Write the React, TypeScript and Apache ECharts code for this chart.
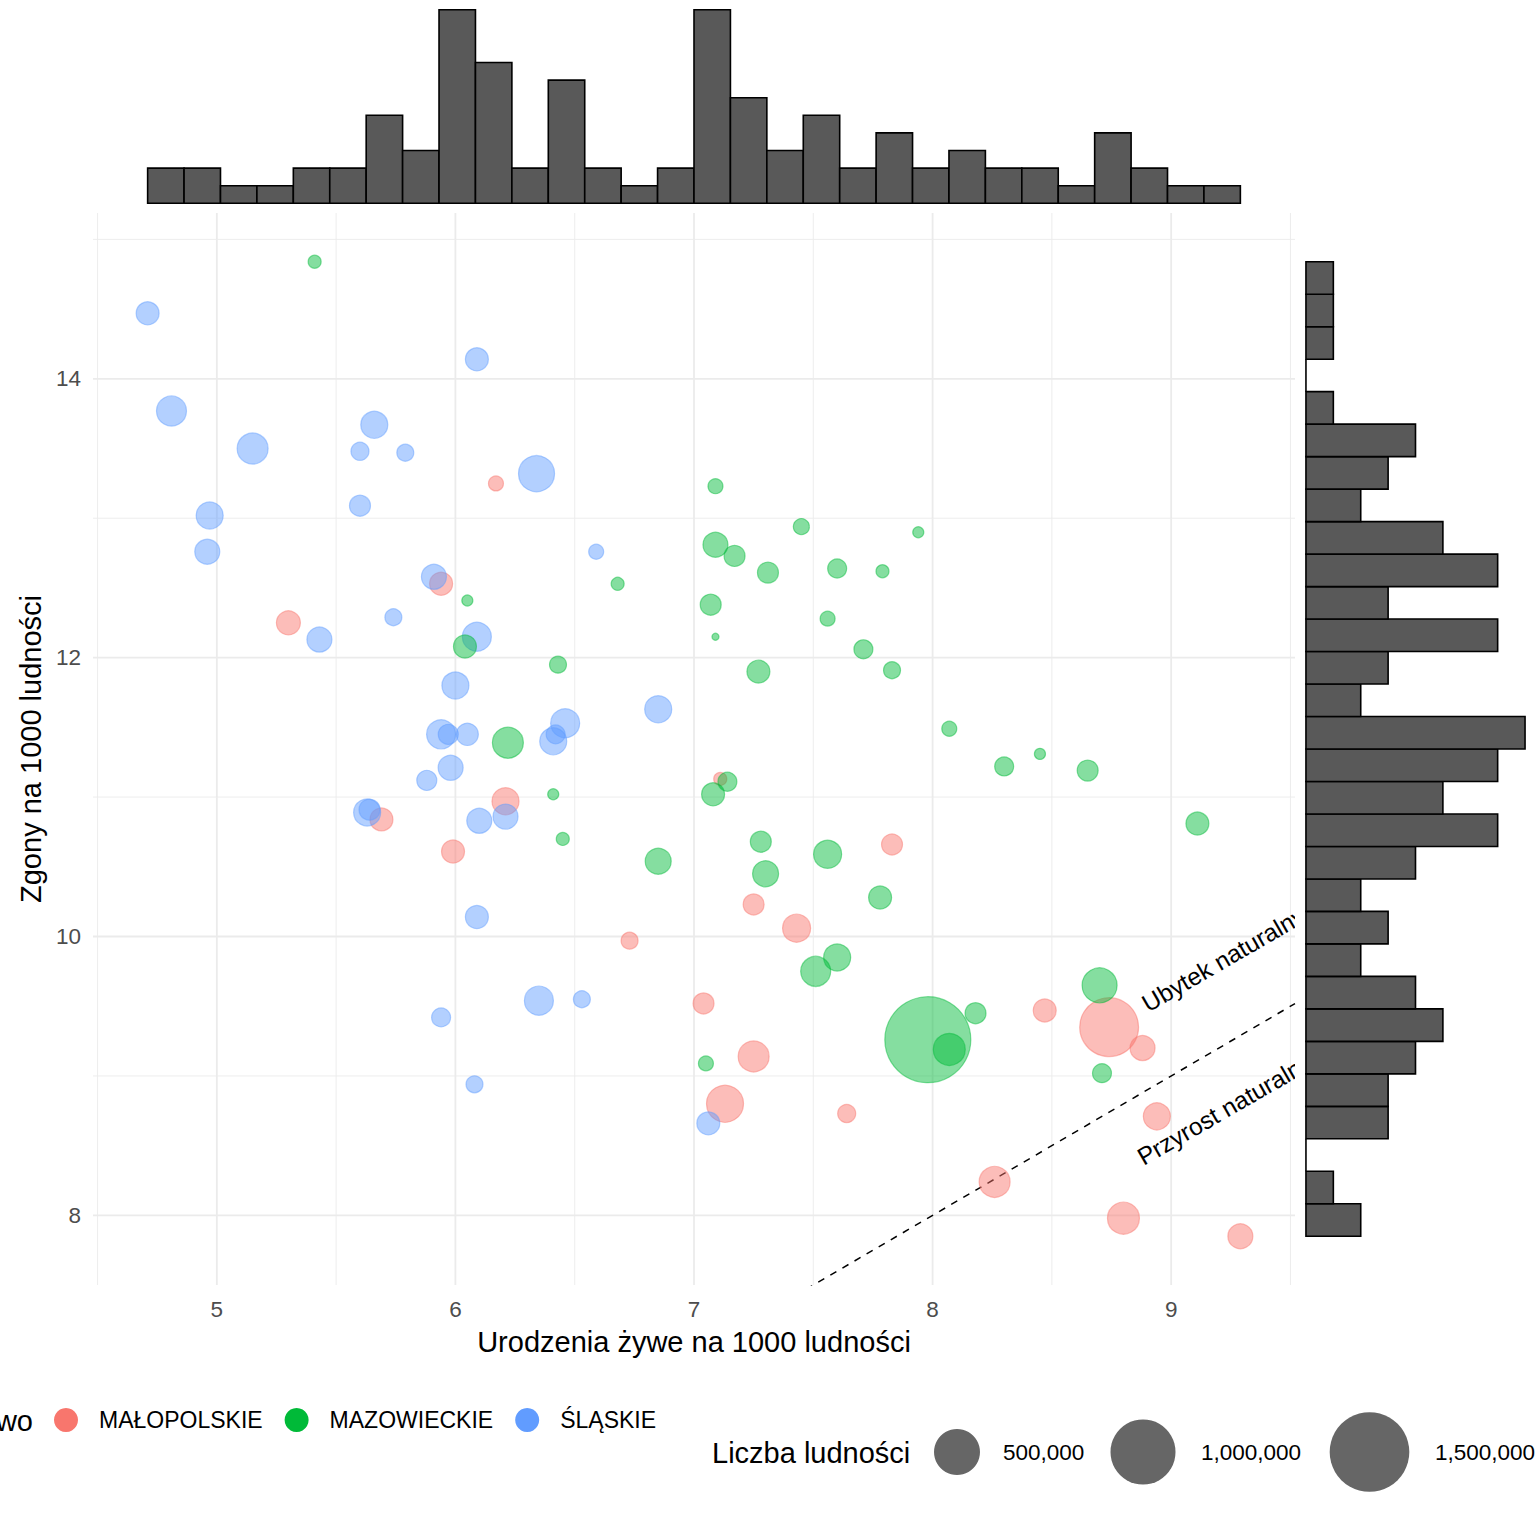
import { useEffect, useRef } from 'react';
import * as echarts from 'echarts';

const FONT = "'Liberation Sans', Arial, sans-serif";

// Województwa (kolejność legendy) i kolory ggplot.
const VOIVODESHIPS = ['MAŁOPOLSKIE', 'MAZOWIECKIE', 'ŚLĄSKIE'];
const SOLID = ['#F8766D', '#00BA38', '#619CFF'];
const FILL = ['rgba(248,118,109,0.6)', 'rgba(0,186,56,0.6)', 'rgba(97,156,255,0.6)'];

// Powiaty: urodzenia żywe / zgony na 1000 ludności oraz liczba ludności.
const MAL_BIRTHS = [6.17, 5.94, 5.30, 5.69, 6.21, 5.99, 6.73, 7.11, 7.83, 7.25, 7.43, 7.04, 7.25, 7.13, 7.64, 8.47, 8.74, 8.88, 8.94, 8.26, 8.80, 9.29];
const MAL_DEATHS = [13.25, 12.53, 12.25, 10.84, 10.97, 10.61, 9.97, 11.13, 10.66, 10.23, 10.06, 9.52, 9.14, 8.80, 8.73, 9.47, 9.35, 9.20, 8.71, 8.24, 7.98, 7.85];
const MAL_POP = [53000, 125000, 136000, 125000, 173000, 125000, 68000, 40000, 104000, 104000, 186000, 104000, 227000, 324000, 77000, 125000, 820000, 148000, 173000, 227000, 242000, 148000];

const MAZ_BIRTHS = [5.41, 6.05, 6.68, 6.04, 6.43, 6.22, 6.41, 6.45, 6.85, 7.09, 7.45, 7.94, 7.09, 7.17, 7.31, 7.60, 7.79, 7.07, 7.09, 7.56, 7.71, 7.27, 7.83, 8.07, 7.14, 7.08, 7.28, 7.30, 7.56, 7.78, 7.60, 7.51, 7.98, 8.07, 8.18, 7.05, 8.30, 8.45, 8.65, 9.11, 8.70, 8.71];
const MAZ_DEATHS = [14.84, 12.41, 12.53, 12.08, 11.95, 11.39, 11.02, 10.70, 10.54, 13.23, 12.94, 12.90, 12.81, 12.73, 12.61, 12.64, 12.62, 12.38, 12.15, 12.28, 12.06, 11.90, 11.91, 11.49, 11.11, 11.02, 10.68, 10.45, 10.59, 10.28, 9.85, 9.75, 9.26, 9.19, 9.45, 9.09, 11.22, 11.31, 11.19, 10.81, 9.65, 9.02];
const MAZ_POP = [40000, 29000, 40000, 125000, 68000, 227000, 29000, 40000, 160000, 53000, 61000, 29000, 148000, 104000, 104000, 85000, 40000, 104000, 12000, 53000, 85000, 125000, 68000, 53000, 85000, 125000, 104000, 160000, 186000, 125000, 173000, 213000, 1750000, 242000, 104000, 53000, 85000, 29000, 104000, 125000, 290000, 85000];

const SL_BIRTHS = [4.71, 6.09, 4.81, 5.15, 5.66, 5.60, 5.79, 5.60, 4.97, 4.96, 5.91, 6.34, 6.59, 5.74, 5.43, 6.09, 6.00, 6.85, 5.94, 5.97, 6.05, 6.46, 6.41, 6.42, 5.98, 5.88, 5.63, 5.64, 6.21, 6.10, 6.09, 6.35, 6.53, 5.94, 6.08, 7.06];
const SL_DEATHS = [14.47, 14.14, 13.77, 13.50, 13.67, 13.48, 13.47, 13.09, 13.02, 12.76, 12.58, 13.32, 12.76, 12.29, 12.13, 12.15, 11.80, 11.63, 11.45, 11.45, 11.45, 11.53, 11.40, 11.45, 11.21, 11.12, 10.89, 10.91, 10.86, 10.83, 10.14, 9.54, 9.55, 9.42, 8.94, 8.66];
const SL_POP = [125000, 125000, 213000, 227000, 173000, 77000, 68000, 104000, 173000, 148000, 148000, 307000, 53000, 68000, 148000, 199000, 173000, 173000, 199000, 95000, 115000, 199000, 173000, 85000, 148000, 95000, 173000, 104000, 148000, 148000, 125000, 199000, 68000, 85000, 68000, 125000];

// Histogramy brzegowe (30 przedziałów, od najmniejszej do największej wartości).
const BIRTH_COUNTS = [2, 2, 1, 1, 2, 2, 5, 3, 11, 8, 2, 7, 2, 1, 2, 11, 6, 3, 5, 2, 4, 2, 3, 2, 2, 1, 4, 2, 1, 1];
const DEATH_COUNTS = [2, 1, 0, 3, 3, 4, 5, 4, 2, 3, 2, 4, 7, 5, 7, 8, 2, 3, 7, 3, 7, 5, 2, 3, 4, 1, 0, 1, 1, 1];

// Osie.
const X_MAJOR = [5, 6, 7, 8, 9];
const X_MINOR = [4.5, 5.5, 6.5, 7.5, 8.5, 9.5];
const Y_MAJOR = [8, 10, 12, 14];
const Y_MINOR = [9, 11, 13, 15];

// Legenda wielkości i adnotacje.
const SIZE_BREAKS = [500000, 1000000, 1500000];
const ANNOT_LABELS = ['Ubytek naturalny', 'Przyrost naturalny'];
const ANNOT_POS = [[9.22, 9.836], [9.225, 8.76]];
const ANNOT_ANGLE = 30;

const sizeOf = (p: number) => 65 * Math.sqrt(p / 1e6);

const allB = [...MAL_BIRTHS, ...MAZ_BIRTHS, ...SL_BIRTHS];
const allD = [...MAL_DEATHS, ...MAZ_DEATHS, ...SL_DEATHS];
const bMin = Math.min(...allB), bMax = Math.max(...allB);
const dMin = Math.min(...allD), dMax = Math.max(...allD);
const X_MIN = bMin - 0.05 * (bMax - bMin), X_MAX = bMax + 0.05 * (bMax - bMin);
const Y_MIN = dMin - 0.05 * (dMax - dMin), Y_MAX = dMax + 0.05 * (dMax - dMin);

export default function App() {
  const ref = useRef<HTMLDivElement>(null);

  useEffect(() => {
    if (!ref.current) return;
    const chart = echarts.init(ref.current, undefined, { renderer: 'svg' });

    const groups = [
      { b: MAL_BIRTHS, d: MAL_DEATHS, p: MAL_POP, i: 0 },
      { b: SL_BIRTHS, d: SL_DEATHS, p: SL_POP, i: 2 },
      { b: MAZ_BIRTHS, d: MAZ_DEATHS, p: MAZ_POP, i: 1 },
    ];

    const bw = (bMax - bMin) / BIRTH_COUNTS.length;
    const dw = (dMax - dMin) / DEATH_COUNTS.length;
    const bCountMax = Math.max(...BIRTH_COUNTS);
    const dCountMax = Math.max(...DEATH_COUNTS);

    const gridData = [
      ...X_MAJOR.map((v) => [0, v, 1]),
      ...X_MINOR.map((v) => [0, v, 0]),
      ...Y_MAJOR.map((v) => [1, v, 1]),
      ...Y_MINOR.map((v) => [1, v, 0]),
    ];

    const axisLabel = { fontSize: 22.5, color: '#4D4D4D', fontFamily: FONT };
    const nameStyle = { fontSize: 29, color: '#000', fontFamily: FONT };

    chart.setOption({
      animation: false,
      grid: [
        { left: 93, top: 213, width: 1202, height: 1072 },
        { left: 93, top: 0, width: 1202, height: 213 },
        { left: 1295, top: 213, width: 241, height: 1072 },
      ],
      xAxis: [
        {
          type: 'value', gridIndex: 0, min: X_MIN, max: X_MAX,
          name: 'Urodzenia żywe na 1000 ludności', nameLocation: 'middle', nameGap: 42, nameTextStyle: nameStyle,
          axisLine: { show: false }, axisTick: { show: false }, splitLine: { show: false },
          axisLabel: { ...axisLabel, margin: 13, customValues: X_MAJOR },
        },
        { type: 'value', gridIndex: 1, min: X_MIN, max: X_MAX, show: false },
        { type: 'value', gridIndex: 2, min: -0.05 * dCountMax, max: dCountMax * 1.05, show: false },
      ],
      yAxis: [
        {
          type: 'value', gridIndex: 0, min: Y_MIN, max: Y_MAX,
          name: 'Zgony na 1000 ludności', nameLocation: 'middle', nameGap: 46, nameTextStyle: nameStyle,
          axisLine: { show: false }, axisTick: { show: false }, splitLine: { show: false },
          axisLabel: { ...axisLabel, margin: 12, customValues: Y_MAJOR },
        },
        { type: 'value', gridIndex: 1, min: -0.05 * bCountMax, max: bCountMax * 1.05, show: false },
        { type: 'value', gridIndex: 2, min: Y_MIN, max: Y_MAX, show: false },
      ],
      legend: {
        left: 49, top: 1403, itemWidth: 56, itemHeight: 24, itemGap: 22, icon: 'circle',
        selectedMode: false,
        textStyle: { fontSize: 23, color: '#000', fontFamily: FONT },
        data: VOIVODESHIPS.map((n, i) => ({ name: n, itemStyle: { color: SOLID[i], borderWidth: 0, opacity: 1 } })),
      },
      graphic: [
        {
          type: 'text', x: 33, y: 1421,
          style: { text: 'Województwo', align: 'right', verticalAlign: 'middle', fontSize: 29, fill: '#000', fontFamily: FONT },
        },
        {
          type: 'text', x: 712, y: 1453,
          style: { text: 'Liczba ludności', align: 'left', verticalAlign: 'middle', fontSize: 29, fill: '#000', fontFamily: FONT },
        },
        ...SIZE_BREAKS.map((v, i) => ({
          type: 'circle',
          shape: { cx: [957, 1143, 1369.5][i], cy: 1452, r: sizeOf(v) / 2 },
          style: { fill: '#666666' },
        })),
        ...SIZE_BREAKS.map((v, i) => ({
          type: 'text', x: [1003, 1201, 1435][i], y: 1452,
          style: { text: v.toLocaleString('en-US'), align: 'left', verticalAlign: 'middle', fontSize: 22.5, fill: '#000', fontFamily: FONT },
        })),
      ],
      series: [
        {
          type: 'custom', name: 'grid', xAxisIndex: 0, yAxisIndex: 0, z: 0, silent: true,
          data: gridData,
          renderItem: (_p: any, api: any) => {
            const o = api.value(0), v = api.value(1), major = api.value(2);
            const a = o === 0 ? api.coord([v, Y_MIN]) : api.coord([X_MIN, v]);
            const b = o === 0 ? api.coord([v, Y_MAX]) : api.coord([X_MAX, v]);
            return {
              type: 'line',
              shape: { x1: a[0], y1: a[1], x2: b[0], y2: b[1] },
              style: { stroke: '#EBEBEB', lineWidth: major ? 1.8 : 0.9 },
            };
          },
        },
        {
          type: 'line', name: 'identity', xAxisIndex: 0, yAxisIndex: 0, z: 1, silent: true,
          data: [[X_MIN, X_MIN], [X_MAX, X_MAX]],
          symbol: 'none',
          lineStyle: { color: '#000', width: 1.5, type: [7, 7] },
        },
        {
          type: 'custom', name: 'annot', xAxisIndex: 0, yAxisIndex: 0, z: 3, silent: true, clip: true,
          data: ANNOT_POS,
          renderItem: (p: any, api: any) => {
            const c = api.coord([api.value(0), api.value(1)]);
            return {
              type: 'text', x: c[0], y: c[1], rotation: (ANNOT_ANGLE * Math.PI) / 180,
              style: {
                text: ANNOT_LABELS[p.dataIndex], fontSize: 24.5, fill: '#000', fontFamily: FONT,
                align: 'center', verticalAlign: 'middle',
              },
            };
          },
        },
        ...groups.map((g) => ({
          type: 'scatter', name: VOIVODESHIPS[g.i], xAxisIndex: 0, yAxisIndex: 0, z: 4,
          data: g.b.map((b, k) => [b, g.d[k], g.p[k]]),
          symbolSize: (val: number[]) => sizeOf(val[2]),
          itemStyle: { color: FILL[g.i], borderColor: FILL[g.i], borderWidth: 1.2 },
        })),
        {
          type: 'custom', name: 'histTop', xAxisIndex: 1, yAxisIndex: 1, z: 2, silent: true,
          data: BIRTH_COUNTS.map((c, i) => [bMin + i * bw, bMin + (i + 1) * bw, c]),
          encode: { x: [0, 1], y: 2 },
          renderItem: (_p: any, api: any) => {
            const a = api.coord([api.value(0), 0]);
            const b = api.coord([api.value(1), api.value(2)]);
            return {
              type: 'rect',
              shape: { x: a[0], y: b[1], width: b[0] - a[0], height: a[1] - b[1] },
              style: { fill: '#595959', stroke: '#000', lineWidth: 1.6 },
            };
          },
        },
        {
          type: 'custom', name: 'histRight', xAxisIndex: 2, yAxisIndex: 2, z: 2, silent: true,
          data: DEATH_COUNTS.map((c, i) => [dMin + i * dw, dMin + (i + 1) * dw, c]),
          encode: { y: [0, 1], x: 2 },
          renderItem: (_p: any, api: any) => {
            const a = api.coord([0, api.value(0)]);
            const b = api.coord([api.value(2), api.value(1)]);
            return {
              type: 'rect',
              shape: { x: a[0], y: b[1], width: b[0] - a[0], height: a[1] - b[1] },
              style: { fill: '#595959', stroke: '#000', lineWidth: 1.6 },
            };
          },
        },
      ],
    });

    return () => chart.dispose();
  }, []);

  return (
    <div
      ref={ref}
      style={{ position: 'fixed', left: 0, top: 0, width: 1536, height: 1536, background: '#fff' }}
    />
  );
}
